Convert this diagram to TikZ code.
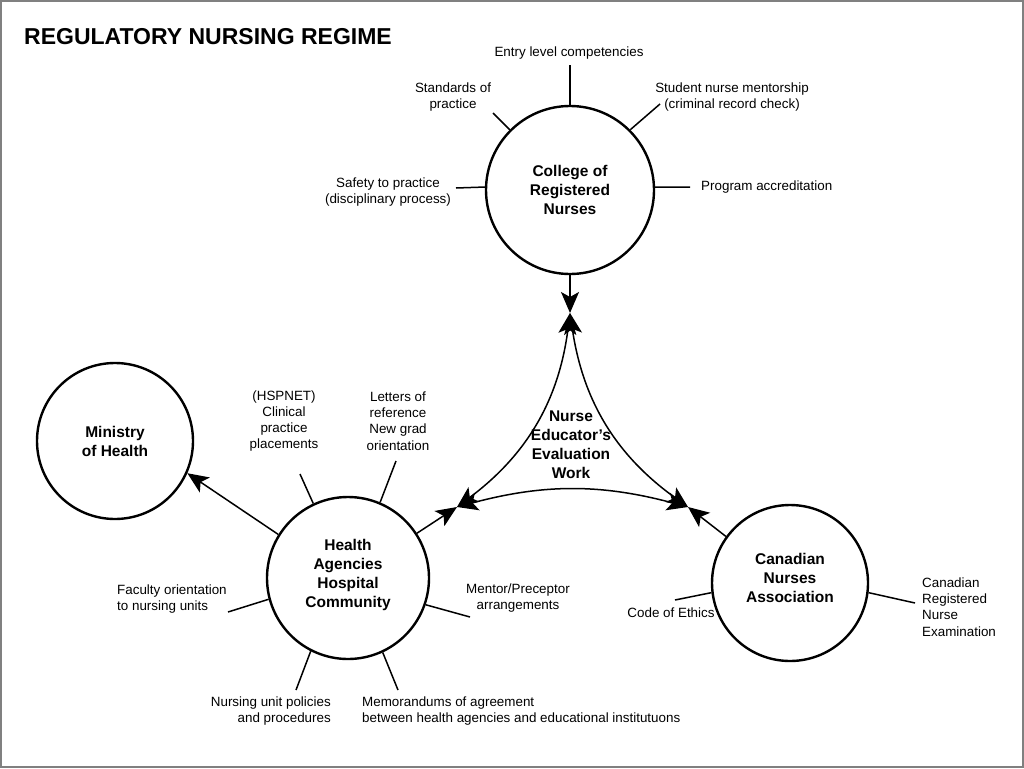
\documentclass[tikz,border=0pt]{standalone}
\usepackage{fontspec}
\setmainfont{Liberation Sans}
\usetikzlibrary{arrows.meta,shapes.geometric}
\begin{document}
\begin{tikzpicture}[x=1pt,y=-1pt,
  bigc/.style={circle,draw,line width=2.4pt,inner sep=0pt,align=center,
    font=\bfseries\fontsize{15.5}{19}\selectfont},
  lbl/.style={font=\fontsize{13.4}{16.3}\selectfont,inner sep=0pt},
  spoke/.style={line width=1.5pt},
  tip/.tip={Stealth[length=21pt,width=18pt,inset=5pt]},
  arr/.style={line width=1.5pt,-tip},
  dblarr/.style={line width=1.5pt,tip-tip},
  frame/.style={draw=black!50,line width=2pt}
]
\useasboundingbox (0,0) rectangle (1024,768);
\draw[frame] (1,1) rectangle (1022.5,766.5);

\node[anchor=west,font=\bfseries\fontsize{23}{27}\selectfont,inner sep=0pt] (title) at (24,37) {REGULATORY NURSING REGIME};

% circles
\node[bigc,minimum size=168pt] (crn) at (570,190) {College of\\Registered\\Nurses};
\node[bigc,minimum size=156pt] (moh) at (115,441) {Ministry\\of Health};
\node[bigc,minimum size=162pt] (ha) at (348,578) {Health\\Agencies\\Hospital\\Community\\[-9pt]\mbox{}};
\node[bigc,minimum size=156pt] (cna) at (790,583) {Canadian\\Nurses\\Association\\[-9pt]\mbox{}};

% central text
\node[align=center,inner sep=0pt,font=\bfseries\fontsize{15.5}{19}\selectfont] (new) at (571,445) {Nurse\\Educator’s\\Evaluation\\Work};

% meeting points
\coordinate (T) at (570,313);
\coordinate (L) at (457,507);
\coordinate (R) at (688,507);

% CRN labels and spokes
\node[lbl] (entry) at (569,53) {Entry level competencies};
\node[lbl,align=center] (stand) at (453,97) {Standards of\\practice};
\node[lbl,align=center] (student) at (732,97) {Student nurse mentorship\\(criminal record check)};
\node[lbl,align=center] (safety) at (388,192) {Safety to practice\\(disciplinary process)};
\node[lbl,anchor=west] (prog) at (701,187) {Program accreditation};
\coordinate (sEntry) at (570,65);
\coordinate (sStand) at (493,113);
\coordinate (sStudent) at (660,104);
\coordinate (sSafety) at (456,188);
\coordinate (sProg) at (690,187);
\draw[spoke] (crn.90) -- (sEntry);
\draw[spoke] (crn.135) -- (sStand);
\draw[spoke] (crn.45) -- (sStudent);
\draw[spoke] (crn.178) -- (sSafety);
\draw[spoke] (crn.2) -- (sProg);

% HA labels and spokes
\node[lbl,align=center] (hsp) at (284,421) {(HSPNET)\\Clinical\\practice\\placements};
\node[lbl,align=center] (letters) at (398,421) {Letters of\\reference\\New grad\\orientation};
\node[lbl,align=left,anchor=west] (faculty) at (117,599) {Faculty orientation\\to nursing units};
\node[lbl,align=center] (mentor) at (518,598) {Mentor/Preceptor\\arrangements};
\node[lbl,align=right,anchor=east] (nursing) at (331,711) {Nursing unit policies\\and procedures};
\node[lbl,align=left,anchor=west] (memo) at (362,711) {Memorandums of agreement\\between health agencies and educational institutuons};
\coordinate (sHsp) at (300,474);
\coordinate (sLetters) at (396,461);
\coordinate (sFaculty) at (228,612);
\coordinate (sMentor) at (470,617);
\coordinate (sNursing) at (296,690);
\coordinate (sMemo) at (398,690);
\draw[spoke] (ha.115) -- (sHsp);
\draw[spoke] (ha.67) -- (sLetters);
\draw[spoke] (ha.195) -- (sFaculty);
\draw[spoke] (ha.-19) -- (sMentor);
\draw[spoke] (ha.243) -- (sNursing);
\draw[spoke] (ha.-65) -- (sMemo);

% CNA labels and spokes
\node[lbl] (code) at (671,613) {Code of Ethics};
\node[lbl,align=left,anchor=west] (crne) at (922,607) {Canadian\\Registered\\Nurse\\Examination};
\coordinate (sCode) at (675,600);
\coordinate (sCrne) at (915,603);
\draw[spoke] (cna.187) -- (sCode);
\draw[spoke] (cna.-7) -- (sCrne);

% arrows
\draw[arr] (crn.-90) -- (T);
\draw[arr] (ha.148) -- (moh.-24);
\draw[arr] (ha.33) -- (L);
\draw[arr] (cna.144) -- (R);

% curved triangle
\draw[dblarr] (T) to[bend left=23] (L);
\draw[dblarr] (L) to[bend left=15] (R);
\draw[dblarr] (R) to[bend left=23] (T);
\end{tikzpicture}
\end{document}
